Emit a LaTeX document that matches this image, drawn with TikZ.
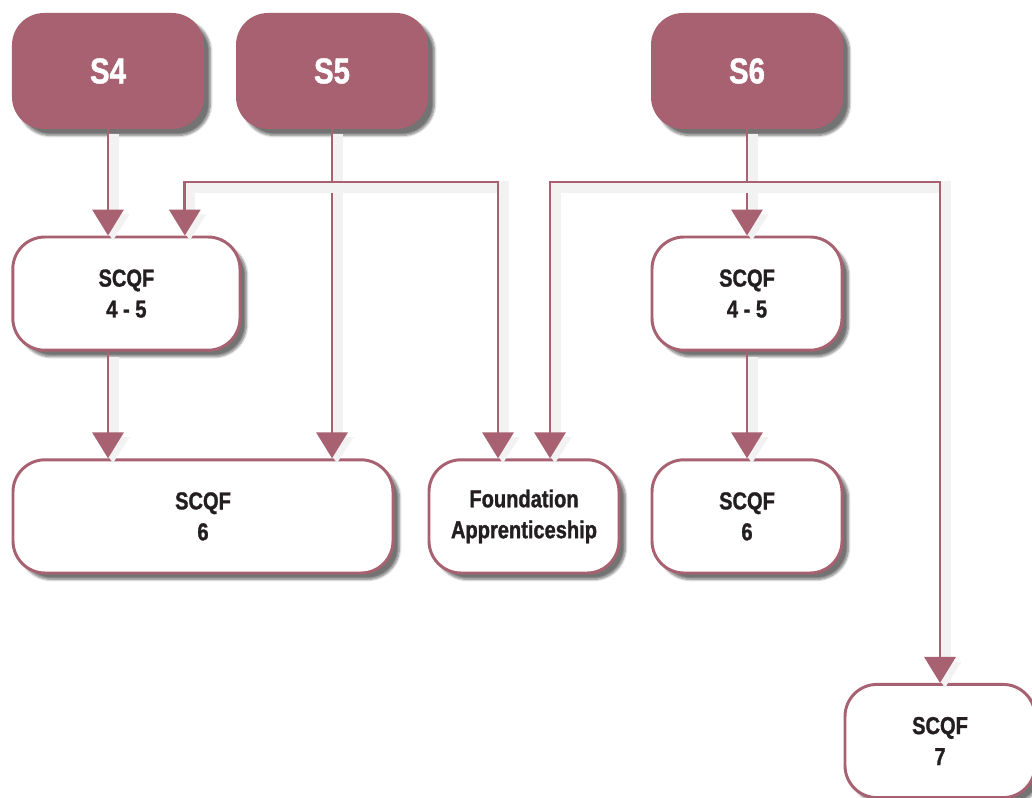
\documentclass[tikz,border=0pt]{standalone}
\usepackage{fontspec}
\usepackage{tikz}
\newfontfamily\condfont{Liberation Sans}[FakeStretch=0.82,FakeBold=1.2]
\usetikzlibrary{positioning}
\usetikzlibrary{arrows.meta}
\usetikzlibrary{shadows.blur}
\definecolor{plum}{RGB}{167,97,113}
\definecolor{ink}{RGB}{35,31,32}

\begin{document}
\begin{tikzpicture}[
    year/.style={fill=plum,text=white,minimum width=4.8cm,minimum height=2.9cm,rounded corners=.8cm,
      font=\condfont\bfseries\fontsize{25.5}{28}\selectfont,
      blur shadow={shadow xshift=.16cm,shadow yshift=-.16cm,shadow blur steps=8,shadow opacity=55}},
    level/.style={draw=plum,line width=2.1pt,fill=white,text=ink,minimum width=4.75cm,minimum height=2.83cm,
      rounded corners=.8cm,align=center,font=\condfont\bfseries\fontsize{17.4}{22}\selectfont,
      blur shadow={shadow xshift=.16cm,shadow yshift=-.16cm,shadow blur steps=8,shadow opacity=55}},
    arr/.style={draw=plum,line width=2pt,-{Triangle[width=.78cm,length=.65cm]},
      preaction={draw=black!5,line width=8pt,transform canvas={xshift=3.5pt,yshift=-3.5pt}},
      preaction={draw=black!5,line width=4pt,transform canvas={xshift=3.5pt,yshift=-3.5pt}}}]
  \useasboundingbox (0,0) rectangle (25.8,-19.95);

  % school years
  \node [year]  (S4) at (2.7,-1.775)   {S4};
  \node [year]  (S5) at (8.3,-1.775)   {S5};
  \node [year]  (S6) at (18.675,-1.775) {S6};

  \coordinate (j5) at (8.3,-4.55);
  \coordinate (j6) at (18.675,-4.55);

  % qualifications
  \node [level,minimum width=5.68cm] (a45L)  at (3.16,-7.34)   {SCQF\\4 - 5};
  \node [level,minimum width=9.5cm]  (sixL)  at (5.075,-12.91) {SCQF\\6};
  \node [level]                      (found) at (13.1,-12.91)  {Foundation\\Apprenticeship};
  \node [level]                      (a45R)  at (18.675,-7.34) {SCQF\\4 - 5};
  \node [level]                      (sixR)  at (18.675,-12.91) {SCQF\\6};
  \node [level]                      (seven) at (23.5,-18.525) {SCQF\\7};

  \draw [arr] (S4.south) -- (S4.south |- a45L.north);
  \draw [arr] (S4.south |- a45L.south) -- (S4.south |- sixL.north);
  \draw [arr] (S5.south) -- (S5.south |- sixL.north);
  \draw [arr] (j5) -| ([xshift=1.46cm]a45L.north);
  \draw [arr] (j5) -| ([xshift=-.65cm]found.north);
  \draw [arr] (S6.south) -- (a45R.north);
  \draw [arr] (j6) -| ([xshift=.65cm]found.north);
  \draw [arr] (j6) -| (seven.north);
  \draw [arr] (a45R.south) -- (sixR.north);
\end{tikzpicture}
\end{document}
